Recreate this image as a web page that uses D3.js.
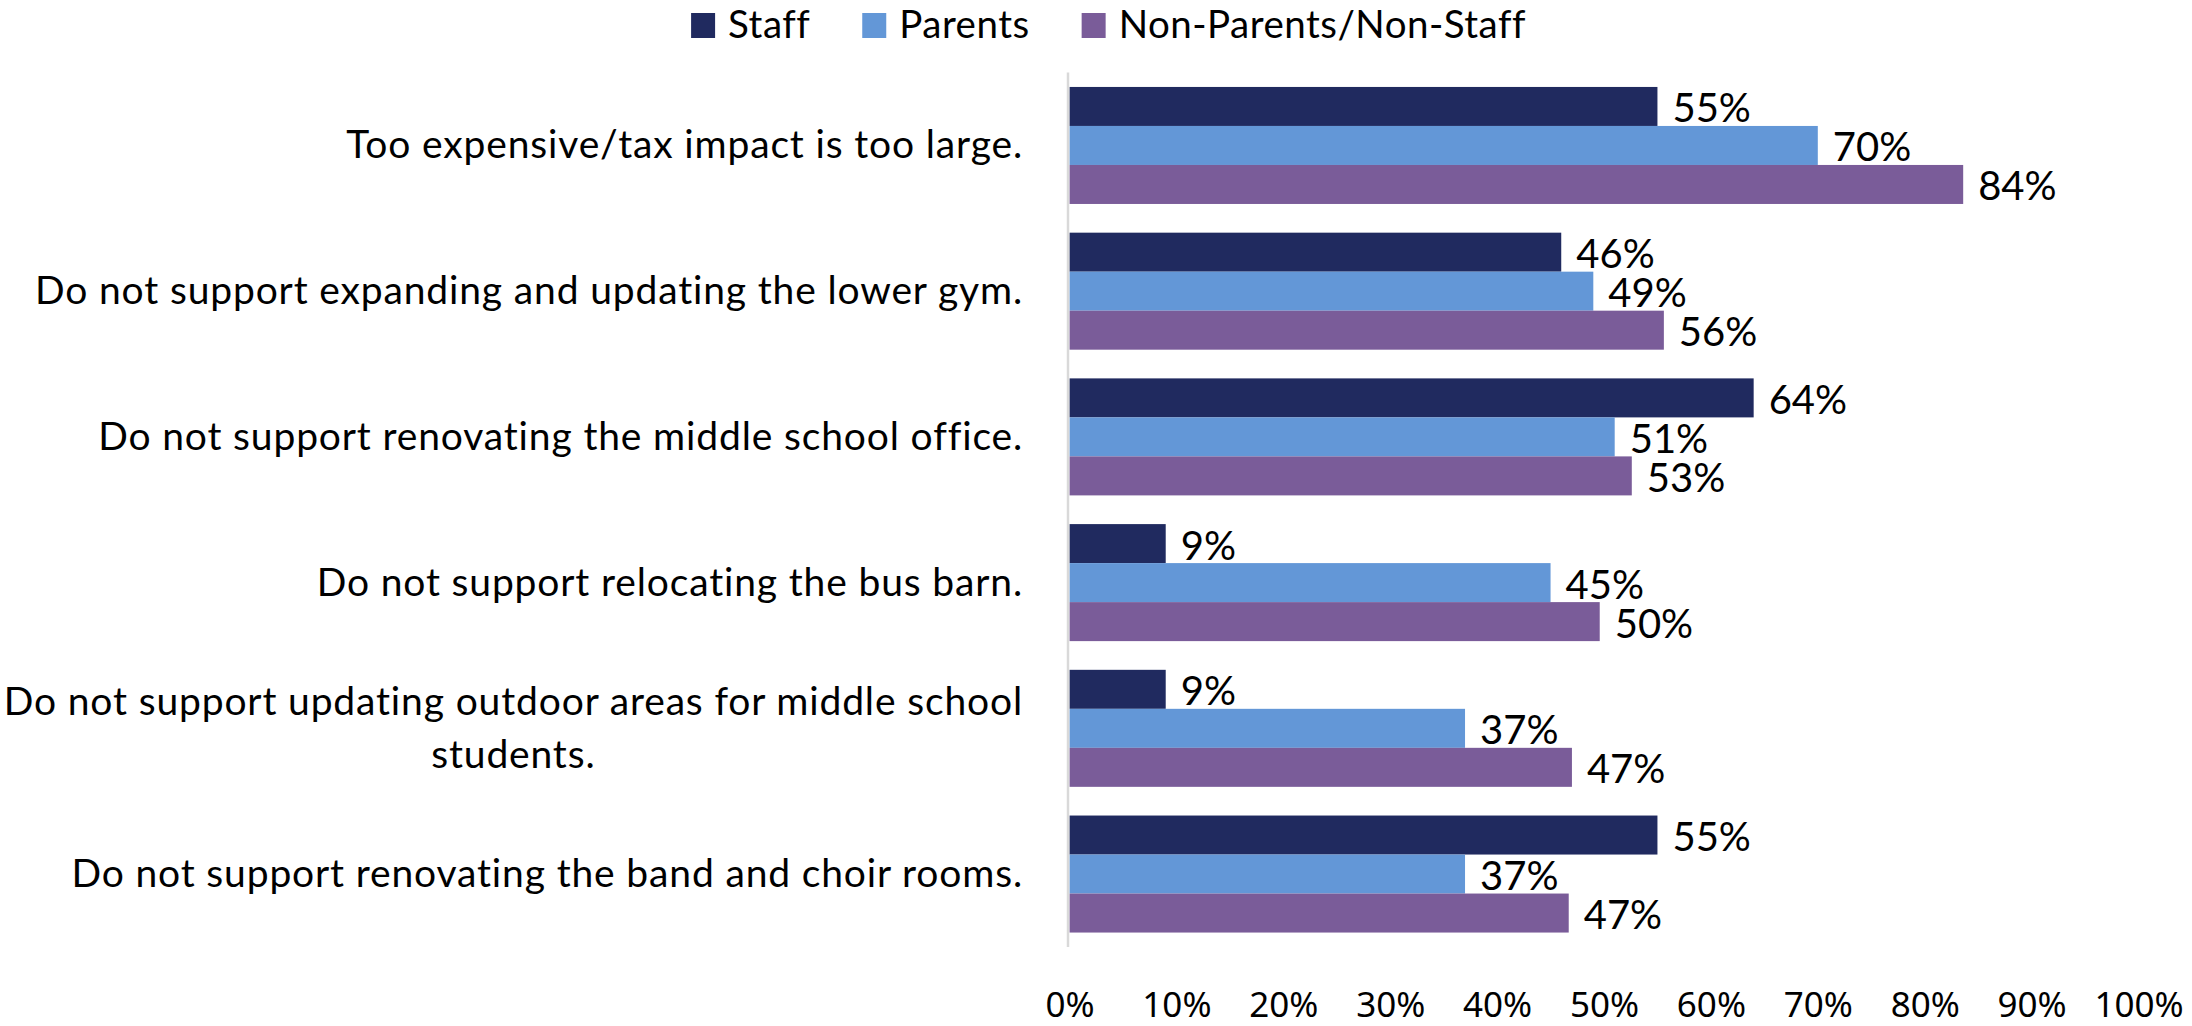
<!DOCTYPE html>
<html>
<head>
<meta charset="utf-8">
<script src="https://cdn.jsdelivr.net/npm/d3@7"></script>
<style>
  html, body { margin: 0; padding: 0; background: #ffffff; }
  svg { display: block; }
</style>
</head>
<body>
<svg id="chart" width="2192" height="1026"></svg>
<script>
// ---- data ----
const categories = [
  "Too expensive/tax impact is too large.",
  "Do not support expanding and updating the lower gym.",
  "Do not support renovating the middle school office.",
  "Do not support relocating the bus barn.",
  "Do not support updating outdoor areas for middle school\nstudents.",
  "Do not support renovating the band and choir rooms."
];
const seriesNames = ["Staff", "Parents", "Non-Parents/Non-Staff"];
const staffValues = [55, 46, 64, 9, 9, 55];
const parentsValues = [70, 49, 51, 45, 37, 37];
const nonParentsValues = [83.6, 55.6, 52.6, 49.6, 47, 46.7];
const tickValues = [0, 10, 20, 30, 40, 50, 60, 70, 80, 90, 100];
const seriesColors = ["#202A5F", "#6397D7", "#7A5C99"];

const seriesValues = [staffValues, parentsValues, nonParentsValues];

// ---- layout ----
const svg = d3.select("#chart");
const FONT = "Lato, 'Source Sans Pro', sans-serif";
const CAT_SIZE = 39;
const VAL_SIZE = 40;

const x = d3.scaleLinear().domain([0, 100]).range([1069.5, 2138.5]);
const y = d3.scaleBand().domain(d3.range(categories.length))
  .range([72.6, 946.9]).paddingInner(0.197).paddingOuter(0.0985);
const ySub = d3.scaleBand().domain(d3.range(seriesNames.length))
  .range([0, y.bandwidth()]).padding(0);

const color = d3.scaleOrdinal().domain(d3.range(seriesNames.length)).range(seriesColors);

// bars
const groups = svg.append("g").selectAll("g")
  .data(categories.map((c, i) => i))
  .join("g")
  .attr("transform", i => `translate(0,${y(i)})`);

groups.selectAll("rect")
  .data(i => seriesValues.map((vals, s) => ({ s, v: vals[i] })))
  .join("rect")
  .attr("x", x(0))
  .attr("y", d => ySub(d.s))
  .attr("width", d => x(d.v) - x(0))
  .attr("height", ySub.bandwidth())
  .attr("fill", d => color(d.s));

groups.selectAll("text")
  .data(i => seriesValues.map((vals, s) => ({ s, v: vals[i] })))
  .join("text")
  .attr("x", d => x(d.v) + 15)
  .attr("y", d => ySub(d.s) + ySub.bandwidth() / 2)
  .attr("dy", "0.4em")
  .attr("font-family", FONT)
  .attr("font-size", VAL_SIZE)
  .attr("fill", "#000")
  .text(d => Math.round(d.v) + "%");

// vertical category axis
const yAxis = d3.axisLeft(y).tickSize(0).tickPadding(0).tickFormat(i => categories[i]);
const yAxisG = svg.append("g")
  .attr("transform", `translate(${x(0) - 1.5},0)`)
  .call(yAxis);
yAxisG.select(".domain").attr("stroke", "#D9D9D9").attr("stroke-width", 2.5)
  .attr("d", `M0,${y.range()[0]}V${y.range()[1]}`);

yAxisG.selectAll(".tick text")
  .attr("font-family", FONT)
  .attr("font-size", CAT_SIZE)
  .attr("letter-spacing", 0.85)
  .attr("fill", "#000")
  .attr("dy", null)
  .each(function(i) {
    const t = d3.select(this);
    const lines = categories[i].split("\n");
    t.text(null);
    const lineH = 53;
    const spans = lines.map((ln, k) => t.append("tspan").text(ln)
      .attr("y", (k - (lines.length - 1) / 2) * lineH + 13));
    const right = -45;
    if (lines.length > 1) {
      const widths = spans.map(s => s.node().getComputedTextLength());
      const maxW = d3.max(widths);
      t.attr("text-anchor", "middle");
      spans.forEach(s => s.attr("x", right - maxW / 2));
    } else {
      t.attr("text-anchor", "end");
      spans.forEach(s => s.attr("x", right));
    }
  });

// x axis (tick labels only)
const xAxis = d3.axisBottom(x).tickValues(tickValues).tickSize(0).tickPadding(0)
  .tickFormat(d => d + "%");
const xAxisG = svg.append("g").attr("transform", "translate(0,1017)").call(xAxis);
xAxisG.select(".domain").remove();
xAxisG.selectAll(".tick text")
  .attr("dy", null)
  .attr("y", 0)
  .attr("font-family", "'Noto Sans', 'Open Sans', sans-serif")
  .attr("font-size", 35)
  .attr("fill", "#000");

// legend
const legend = svg.append("g");
const items = legend.selectAll("g").data(seriesNames).join("g");
items.append("rect").attr("width", 24).attr("height", 25).attr("y", 13)
  .attr("fill", (d, i) => color(i));
items.append("text").attr("x", 37).attr("y", 38)
  .attr("font-family", FONT).attr("font-size", 38.5).attr("letter-spacing", 0.5)
  .attr("fill", "#000")
  .text(d => d);
let cursor = 0;
const offsets = [];
items.each(function() {
  offsets.push(cursor);
  const w = d3.select(this).select("text").node().getComputedTextLength();
  cursor += 37 + w + 52;
});
const totalW = cursor - 52;
const startX = 1108.5 - totalW / 2;
items.attr("transform", (d, i) => `translate(${startX + offsets[i]},0)`);
</script>
</body>
</html>
